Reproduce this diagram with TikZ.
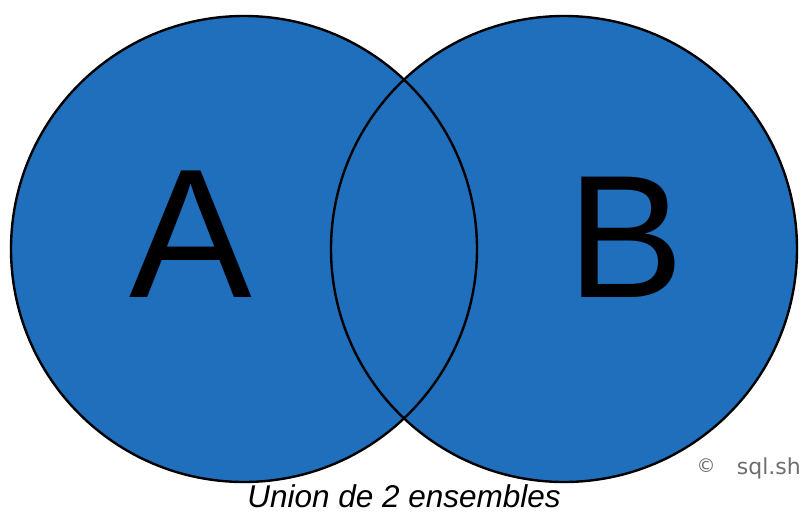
\documentclass[tikz,border=0pt]{standalone}
\usepackage{fontspec}
\setmainfont{Liberation Sans}
\newfontfamily\markfont{DejaVu Sans}
\definecolor{setblue}{RGB}{31,111,189}
\definecolor{markgray}{RGB}{110,110,110}
\begin{document}
\begin{tikzpicture}[x=1pt,y=-1pt,
  setfill/.style={fill=setblue},
  setline/.style={draw=black,line width=2.4pt},
  biglabel/.style={font=\fontsize{184}{184}\selectfont,anchor=base,inner sep=0pt},
  caption/.style={font=\fontsize{31.5}{31.5}\selectfont\itshape,anchor=base,inner sep=0pt},
  marktext/.style={text=markgray,anchor=base,inner sep=0pt}]
\useasboundingbox[fill=white] (0,0) rectangle (803,517);
\coordinate (ca) at (244,249);
\coordinate (cb) at (564,249);
\fill[setfill] (ca) circle (233);
\fill[setfill] (cb) circle (233);
\draw[setline] (ca) circle (233);
\draw[setline] (cb) circle (233);
\node[biglabel] (la) at (191,297) {A};
\node[biglabel,font=\fontsize{175}{175}\selectfont] (lb) at (626,297) {B};
\node[caption] (cap) at (404,507) {Union de 2 ensembles};
\node[marktext,font=\markfont\fontsize{19}{19}\selectfont] (copy) at (706,472) {©};
\node[marktext,font=\markfont\fontsize{22}{22}\selectfont,anchor=base east] (site) at (801,474) {sql.sh};
\end{tikzpicture}
\end{document}
